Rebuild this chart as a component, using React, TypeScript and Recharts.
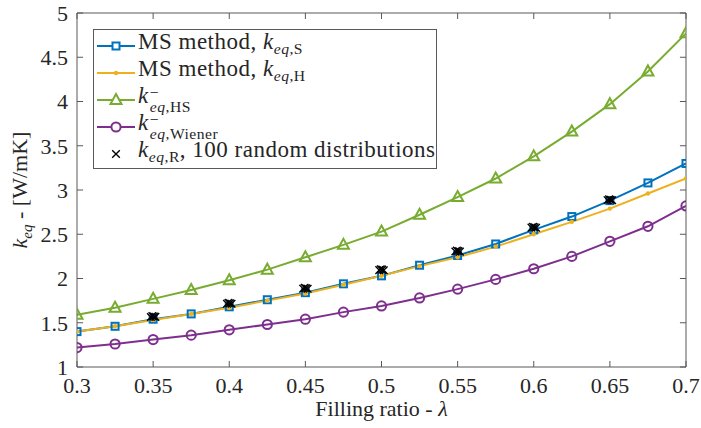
import { ComposedChart, Line, ReferenceLine, Scatter, XAxis, YAxis } from 'recharts';

// filling ratio (x) for the computed curves
const lambda = [0.3, 0.325, 0.35, 0.375, 0.4, 0.425, 0.45, 0.475, 0.5, 0.525, 0.55, 0.575, 0.6, 0.625, 0.65, 0.675, 0.7];

const kS = [1.4, 1.46, 1.54, 1.6, 1.68, 1.76, 1.84, 1.94, 2.03, 2.15, 2.26, 2.39, 2.55, 2.7, 2.88, 3.08, 3.3];
const kH = [1.4, 1.46, 1.53, 1.6, 1.67, 1.75, 1.83, 1.93, 2.03, 2.14, 2.24, 2.36, 2.5, 2.64, 2.79, 2.96, 3.13];
const kHS = [1.59, 1.67, 1.77, 1.87, 1.98, 2.1, 2.24, 2.38, 2.53, 2.72, 2.92, 3.13, 3.38, 3.66, 3.97, 4.34, 4.77];
const kWiener = [1.22, 1.26, 1.31, 1.36, 1.42, 1.48, 1.54, 1.62, 1.69, 1.78, 1.88, 1.99, 2.11, 2.25, 2.42, 2.59, 2.82];

// random distributions, clustered around each filling ratio
const randX = [
  0.3485, 0.3495, 0.3505, 0.3515,
  0.3985, 0.3995, 0.4005, 0.4015,
  0.4485, 0.4495, 0.4505, 0.4515,
  0.4985, 0.4995, 0.5005, 0.5015,
  0.5485, 0.5495, 0.5505, 0.5515,
  0.5985, 0.5995, 0.6005, 0.6015,
  0.6485, 0.6495, 0.6505, 0.6515,
];
const randY = [
  1.565, 1.575, 1.57, 1.566,
  1.715, 1.725, 1.72, 1.714,
  1.885, 1.895, 1.89, 1.884,
  2.095, 2.105, 2.1, 2.094,
  2.305, 2.315, 2.31, 2.304,
  2.575, 2.585, 2.58, 2.574,
  2.885, 2.895, 2.89, 2.884,
];

const xTicks = [0.3, 0.35, 0.4, 0.45, 0.5, 0.55, 0.6, 0.65, 0.7];
const yTicks = [1, 1.5, 2, 2.5, 3, 3.5, 4, 4.5, 5];

const BLUE = '#0072BD';
const ORANGE = '#EDB120';
const GREEN = '#77AC30';
const PURPLE = '#7E2F8E';
const AXIS = '#595959';
const INK = '#262626';
const FONT = '"Liberation Serif", "Times New Roman", serif';

const X_MIN = 0.3;
const X_MAX = 0.7;
const Y_MIN = 1;
const Y_MAX = 5;
const TICK_DX = 0.004; // inward tick length in x units (~6px)
const TICK_DY = 0.068; // inward tick length in y units (~6px)

const toPoints = (ys: number[]) => lambda.map((x, i) => ({ x, y: ys[i] }));
const randPoints = randX.map((x, i) => ({ x, y: randY[i] }));

interface DotProps {
  cx?: number;
  cy?: number;
  index?: number;
}

function SquareDot({ cx, cy, index }: DotProps) {
  if (cx == null || cy == null) return null;
  return <rect key={`sq-${index}`} x={cx - 3.5} y={cy - 3.5} width={7} height={7} fill="none" stroke={BLUE} strokeWidth={2} />;
}

function SmallDot({ cx, cy, index }: DotProps) {
  if (cx == null || cy == null) return null;
  return <circle key={`sd-${index}`} cx={cx} cy={cy} r={2.2} fill={ORANGE} />;
}

function TriangleDot({ cx, cy, index }: DotProps) {
  if (cx == null || cy == null) return null;
  return (
    <path
      key={`tr-${index}`}
      d={`M${cx},${cy - 6}L${cx + 5.5},${cy + 4}L${cx - 5.5},${cy + 4}Z`}
      fill="none"
      stroke={GREEN}
      strokeWidth={2}
    />
  );
}

function CircleDot({ cx, cy, index }: DotProps) {
  if (cx == null || cy == null) return null;
  return <circle key={`ci-${index}`} cx={cx} cy={cy} r={4.6} fill="none" stroke={PURPLE} strokeWidth={2} />;
}

function CrossShape({ cx, cy }: DotProps) {
  if (cx == null || cy == null) return null;
  const s = 3.8;
  return (
    <path d={`M${cx - s},${cy - s}L${cx + s},${cy + s}M${cx - s},${cy + s}L${cx + s},${cy - s}`} stroke="#000" strokeWidth={1.4} fill="none" />
  );
}

function YLabel({ viewBox }: { viewBox?: { x: number; y: number; width: number; height: number } }) {
  if (!viewBox) return null;
  const cx = viewBox.x + 27;
  const cy = viewBox.y + viewBox.height / 2;
  return (
    <text transform={`translate(${cx},${cy}) rotate(-90)`} textAnchor="middle" fontFamily={FONT} fontSize={22} fill={INK}>
      <tspan fontStyle="italic">k</tspan>
      <tspan fontStyle="italic" fontSize={15} dy={5}>eq</tspan>
      <tspan dy={-5}> - [W/mK]</tspan>
    </text>
  );
}

function XLabel({ viewBox }: { viewBox?: { x: number; y: number; width: number; height: number } }) {
  if (!viewBox) return null;
  const cx = viewBox.x + viewBox.width / 2;
  return (
    <text x={cx} y={viewBox.y + 49} textAnchor="middle" fontFamily={FONT} fontSize={22} fill={INK}>
      Filling ratio - <tspan fontStyle="italic">λ</tspan>
    </text>
  );
}

function LegendIcon({ kind }: { kind: string }) {
  const c = 19;
  const m = 10;
  return (
    <svg width={38} height={20} style={{ flex: 'none' }}>
      {kind === 'S' && (
        <>
          <line x1={0} x2={38} y1={m} y2={m} stroke={BLUE} strokeWidth={2} />
          <rect x={c - 3.5} y={m - 3.5} width={7} height={7} fill="#fff" stroke={BLUE} strokeWidth={2} />
        </>
      )}
      {kind === 'H' && (
        <>
          <line x1={0} x2={38} y1={m} y2={m} stroke={ORANGE} strokeWidth={2} />
          <circle cx={c} cy={m} r={2.2} fill={ORANGE} />
        </>
      )}
      {kind === 'HS' && (
        <>
          <line x1={0} x2={38} y1={m} y2={m} stroke={GREEN} strokeWidth={2} />
          <path d={`M${c},${m - 6}L${c + 5.5},${m + 4}L${c - 5.5},${m + 4}Z`} fill="#fff" stroke={GREEN} strokeWidth={2} />
        </>
      )}
      {kind === 'W' && (
        <>
          <line x1={0} x2={38} y1={m} y2={m} stroke={PURPLE} strokeWidth={2} />
          <circle cx={c} cy={m} r={4.6} fill="#fff" stroke={PURPLE} strokeWidth={2} />
        </>
      )}
      {kind === 'R' && <CrossShape cx={c} cy={m} />}
    </svg>
  );
}

const subStyle = { fontSize: '0.68em', verticalAlign: '-0.35em' } as const;

function Stacked({ sub }: { sub: string }) {
  return (
    <span
      style={{
        display: 'inline-block',
        fontSize: '0.68em',
        lineHeight: 0.95,
        verticalAlign: '-0.62em',
        marginLeft: 1,
      }}
    >
      <span style={{ display: 'block' }}>−</span>
      <span style={{ display: 'block' }}>
        <i>eq</i>,{sub}
      </span>
    </span>
  );
}

const legendRows = [
  { kind: 'S', label: <>MS method, <i>k</i><span style={subStyle}><i>eq</i>,S</span></> },
  { kind: 'H', label: <>MS method, <i>k</i><span style={subStyle}><i>eq</i>,H</span></> },
  { kind: 'HS', label: <><i>k</i><Stacked sub="HS" /></> },
  { kind: 'W', label: <><i>k</i><Stacked sub="Wiener" /></> },
  { kind: 'R', label: <><i>k</i><span style={subStyle}><i>eq</i>,R</span>, 100 random distributions</> },
];

function ChartLegend() {
  return (
    <div
      style={{
        position: 'absolute',
        left: 93,
        top: 29,
        width: 344,
        height: 140,
        boxSizing: 'border-box',
        border: `1px solid ${AXIS}`,
        background: '#fff',
        paddingTop: 2,
        fontFamily: FONT,
        fontSize: 23,
        letterSpacing: 0.5,
        color: INK,
      }}
    >
      {legendRows.map((r) => (
        <div key={r.kind} style={{ display: 'flex', alignItems: 'center', height: 27, paddingLeft: 3, whiteSpace: 'nowrap' }}>
          <LegendIcon kind={r.kind} />
          <div style={{ marginLeft: 3, lineHeight: '23px', whiteSpace: 'nowrap' }}>{r.label}</div>
        </div>
      ))}
    </div>
  );
}

export default function App() {
  const tickStyle = { fontSize: 22, fill: INK, fontFamily: FONT };
  return (
    <div style={{ position: 'absolute', left: 0, top: 0, width: 701, height: 428, background: '#fff' }}>
      <ComposedChart width={701} height={428} margin={{ top: 13, right: 15, left: 0, bottom: 0 }}>
        <XAxis
          dataKey="x"
          type="number"
          domain={[X_MIN, X_MAX]}
          ticks={xTicks}
          interval={0}
          allowDataOverflow
          height={61}
          stroke={AXIS}
          tickLine={false}
          tickMargin={4}
          tick={tickStyle}
          label={{ content: <XLabel /> }}
        />
        <YAxis
          dataKey="y"
          type="number"
          domain={[Y_MIN, Y_MAX]}
          ticks={yTicks}
          interval={0}
          allowDataOverflow
          width={77}
          stroke={AXIS}
          tickLine={false}
          tickMargin={3}
          tick={tickStyle}
          label={{ content: <YLabel /> }}
        />
        {/* box: top and right edges */}
        <ReferenceLine y={Y_MAX} stroke={AXIS} strokeWidth={1} />
        <ReferenceLine x={X_MAX} stroke={AXIS} strokeWidth={1} />
        {/* inward ticks on all four sides */}
        {xTicks.map((t) => (
          <ReferenceLine key={`xb-${t}`} segment={[{ x: t, y: Y_MIN }, { x: t, y: Y_MIN + TICK_DY }]} stroke={AXIS} />
        ))}
        {xTicks.map((t) => (
          <ReferenceLine key={`xt-${t}`} segment={[{ x: t, y: Y_MAX }, { x: t, y: Y_MAX - TICK_DY }]} stroke={AXIS} />
        ))}
        {yTicks.map((t) => (
          <ReferenceLine key={`yl-${t}`} segment={[{ x: X_MIN, y: t }, { x: X_MIN + TICK_DX, y: t }]} stroke={AXIS} />
        ))}
        {yTicks.map((t) => (
          <ReferenceLine key={`yr-${t}`} segment={[{ x: X_MAX, y: t }, { x: X_MAX - TICK_DX, y: t }]} stroke={AXIS} />
        ))}
        <Line data={toPoints(kS)} dataKey="y" stroke={BLUE} strokeWidth={2} dot={SquareDot} activeDot={false} isAnimationActive={false} />
        <Line data={toPoints(kH)} dataKey="y" stroke={ORANGE} strokeWidth={2} dot={SmallDot} activeDot={false} isAnimationActive={false} />
        <Line data={toPoints(kHS)} dataKey="y" stroke={GREEN} strokeWidth={2} dot={TriangleDot} activeDot={false} isAnimationActive={false} />
        <Line data={toPoints(kWiener)} dataKey="y" stroke={PURPLE} strokeWidth={2} dot={CircleDot} activeDot={false} isAnimationActive={false} />
        <Scatter data={randPoints} dataKey="y" shape={CrossShape} isAnimationActive={false} />
      </ComposedChart>
      <ChartLegend />
    </div>
  );
}
